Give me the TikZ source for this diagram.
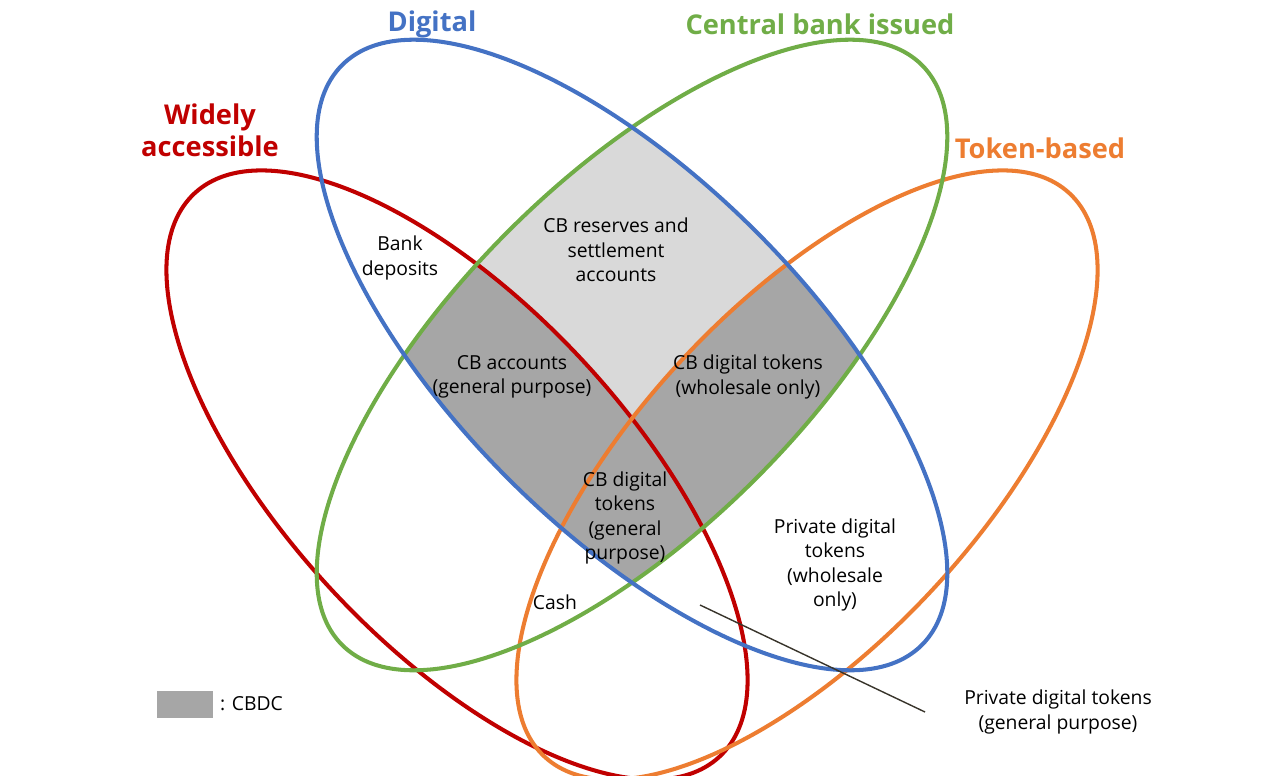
\documentclass[tikz,border=0pt]{standalone}
\usepackage{fontspec}
\setmainfont{Open Sans}
\definecolor{cred}{HTML}{C00000}
\definecolor{cblue}{HTML}{4472C4}
\definecolor{cgreen}{HTML}{70AD47}
\definecolor{corange}{HTML}{ED7D31}
\definecolor{lgray}{HTML}{D9D9D9}
\definecolor{dgray}{HTML}{A6A6A6}
\begin{document}
\begin{tikzpicture}[x=0.02cm,y=-0.02cm,
  ring/.style={line width=2.3pt},
  lbl/.style={font=\fontsize{11}{14}\selectfont,align=center,inner sep=1pt},
  ttl/.style={font=\fontsize{15.5}{18}\selectfont\bfseries,align=center}]
\useasboundingbox (0,0) rectangle (1280,776);
\begin{scope}
 \clip[rotate around={-45:(632,355)}] (632,355) ellipse (410 and 175);
 \clip[rotate around={45:(632,355)}] (632,355) ellipse (410 and 175);
 \fill[lgray] (0,0) rectangle (1280,776);
 \fill[dgray,rotate around={-47:(457,475)}] (457,475) ellipse (385 and 170);
 \fill[dgray,rotate around={47:(807,475)}] (807,475) ellipse (385 and 170);
\end{scope}
\draw[ring,cred,rotate around={-47:(457,475)}] (457,475) ellipse (385 and 170);
\draw[ring,corange,rotate around={47:(807,475)}] (807,475) ellipse (385 and 170);
\draw[ring,cgreen,rotate around={45:(632,355)}] (632,355) ellipse (410 and 175);
\draw[ring,cblue,rotate around={-45:(632,355)}] (632,355) ellipse (410 and 175);
\node[ttl,text=cred] (wa) at (210,130) {Widely\\accessible};
\node[ttl,text=cblue] (dg) at (432,24) {Digital};
\node[ttl,text=cgreen] (cb) at (820,24) {Central bank issued};
\node[ttl,text=corange] (tb) at (1040,148) {Token-based};
\node[lbl] (bd) at (400,258) {Bank\\deposits};
\node[lbl] (rs) at (616,250) {CB reserves and\\settlement\\accounts};
\node[lbl] (ca) at (512,377) {CB accounts\\(general purpose)};
\node[lbl] (tw) at (748,377) {CB digital tokens\\(wholesale only)};
\node[lbl] (tg) at (625,518) {CB digital\\tokens\\(general\\purpose)};
\node[lbl] (pw) at (835,565) {Private digital\\tokens\\(wholesale\\only)};
\node[lbl] (cs) at (555,602) {Cash};
\node[lbl] (pg) at (1058,712) {Private digital tokens\\(general purpose)};
\coordinate (pt) at (700,605);
\coordinate (pe) at (925,712);
\draw[line width=0.8pt,black!80!olive] (pt) -- (pe);
\node[fill=dgray,minimum width=56*0.02cm,minimum height=27*0.02cm,inner sep=0] (lg) at (185,704) {};
\node[lbl,anchor=west] (lt) at (218,704) {: CBDC};
\end{tikzpicture}
\end{document}
